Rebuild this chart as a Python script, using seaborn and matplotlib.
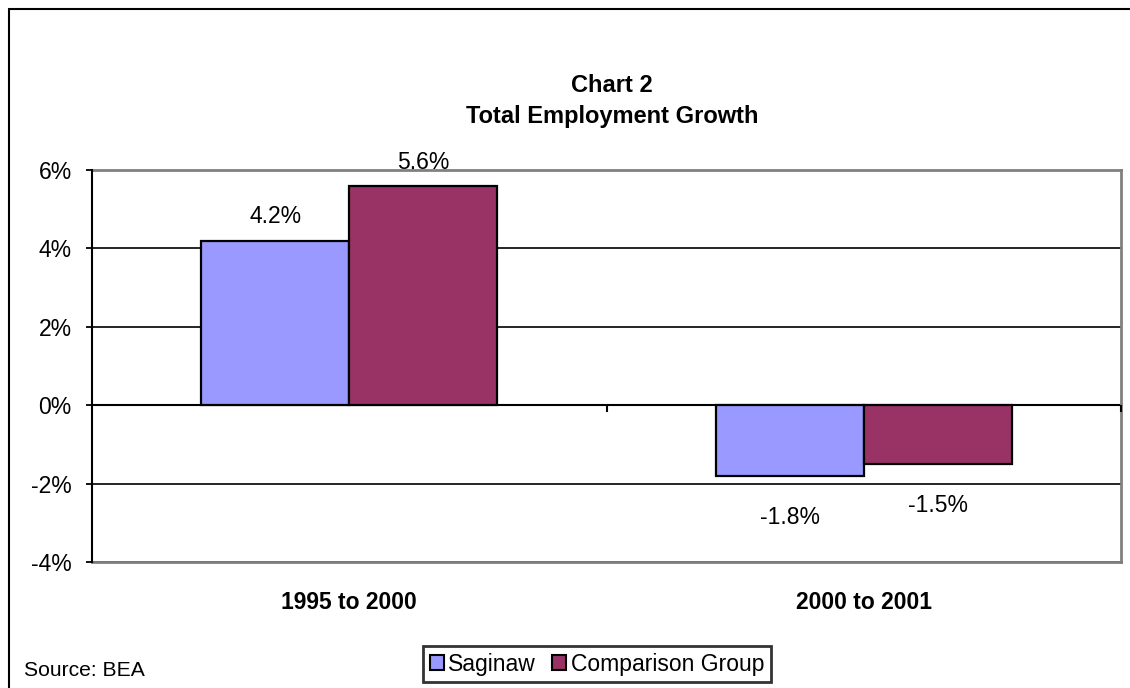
import matplotlib
matplotlib.use("Agg")
import matplotlib.pyplot as plt
from matplotlib.lines import Line2D
import numpy as np
import pandas as pd
import seaborn as sns

# Data
periods = ["1995 to 2000", "2000 to 2001"]
areas = ["Saginaw", "Comparison Group"]
saginaw = [4.2, -1.8]
comparison = [5.6, -1.5]
y_ticks = [-4, -2, 0, 2, 4, 6]

df = pd.DataFrame({
    "period": periods * 2,
    "area": [areas[0]] * len(periods) + [areas[1]] * len(periods),
    "growth": saginaw + comparison,
})

sns.set_style("white")
plt.rcParams["font.family"] = ["Liberation Sans", "DejaVu Sans"]
plt.rcParams["text.color"] = "black"
plt.rcParams["xtick.color"] = "black"
plt.rcParams["ytick.color"] = "black"
plt.rcParams["axes.labelcolor"] = "black"
FS = 16.5

W, H = 1130, 688
fig = plt.figure(figsize=(W / 100, H / 100), dpi=100)
fig.patch.set_facecolor("white")

# plot area in pixel terms
left, right, top, bottom = 92, 1121, 170, 562
ax = fig.add_axes([left / W, 1 - bottom / H, (right - left) / W, (bottom - top) / H])

sns.barplot(
    data=df, x="period", y="growth", hue="area", hue_order=areas,
    order=periods, palette=["#9999FF", "#993366"], saturation=1,
    width=0.576, gap=0, edgecolor="black", linewidth=1.6, ax=ax, zorder=3,
)

ax.set_xlim(-0.5, len(periods) - 0.5)
ax.set_ylim(min(y_ticks), max(y_ticks))
ax.set_yticks(y_ticks)
ax.set_yticklabels([f"{t:.0f}%" for t in y_ticks], fontsize=FS)
ax.set_xlabel("")
ax.set_ylabel("")
ax.set_xticks(range(len(periods)))
ax.set_xticklabels(periods, fontsize=FS, fontweight="bold")
ax.tick_params(axis="x", length=0, pad=21, labelcolor="black")
ax.tick_params(axis="y", direction="out", length=4.5, width=1.3, color="black",
               pad=10, left=True, labelcolor="black")

# horizontal gridlines
ax.set_axisbelow(True)
ax.yaxis.grid(True, color="black", linewidth=1.2)
ax.xaxis.grid(False)

# frame: black left axis, gray border elsewhere
for side in ["top", "right", "bottom"]:
    ax.spines[side].set_color("#808080")
    ax.spines[side].set_linewidth(2)
ax.spines["left"].set_color("black")
ax.spines["left"].set_linewidth(1.5)
ax.spines["left"].set_zorder(4)

# zero line with category separator ticks
ax.axhline(0, color="black", linewidth=1.5, zorder=2)
ax.plot(np.arange(len(periods)) + 0.5, np.zeros(len(periods)), ls="none",
        marker=3, markersize=5, markeredgewidth=1.5, color="black", zorder=4,
        clip_on=False)

# value labels
for cont in ax.containers:
    for bar in cont:
        v = bar.get_height()
        cx = bar.get_x() + bar.get_width() / 2
        off = 17 if v >= 0 else -30
        ax.annotate(f"{v:.1f}%", (cx, v), xytext=(0, off),
                    textcoords="offset points", ha="center", va="center",
                    fontsize=FS, color="black", zorder=5, annotation_clip=False)

# legend below the plot
handles, labels = ax.get_legend_handles_labels()
ax.get_legend().remove()
leg = fig.legend(handles, labels, loc="center",
                 bbox_to_anchor=(597 / W, 1 - 664 / H), ncol=2,
                 fontsize=FS, frameon=True, fancybox=False, edgecolor="black",
                 borderpad=0.3, handlelength=0.62, handleheight=0.62,
                 handletextpad=0.2, columnspacing=0.7, borderaxespad=0)
leg.get_frame().set_linewidth(2)
for h in leg.legend_handles:
    h.set_edgecolor("black")
    h.set_linewidth(1.5)
for t in leg.get_texts():
    t.set_color("black")

# title
fig.text(612 / W, 1 - 101 / H, "Chart 2\nTotal Employment Growth",
         ha="center", va="center", fontsize=17, fontweight="bold",
         linespacing=1.4, multialignment="center", color="black")

fig.text(24 / W, 1 - 670 / H, "Source: BEA", ha="left", va="center",
         fontsize=FS * 0.92, color="black")

# outer chart border (left and top edges)
x0, y0 = 8.5 / W, 1 - 8.5 / H
fig.add_artist(Line2D([x0, x0], [y0, 0], transform=fig.transFigure,
                      color="black", linewidth=1.5))
fig.add_artist(Line2D([x0, 1], [y0, y0], transform=fig.transFigure,
                      color="black", linewidth=1.5))

fig.savefig("out.png", dpi=100)
